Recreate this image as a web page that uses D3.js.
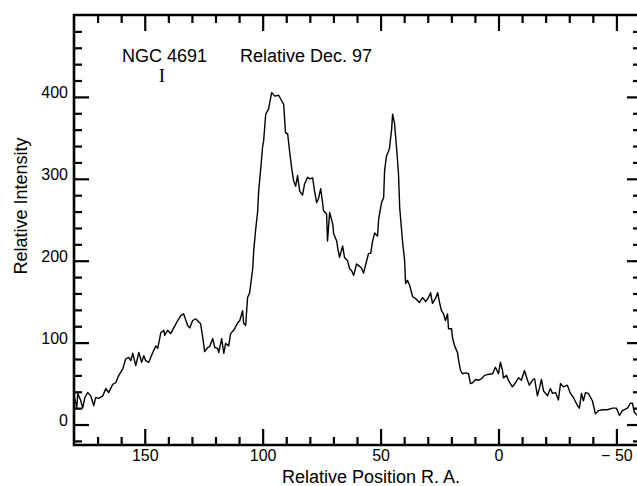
<!DOCTYPE html>
<html>
<head>
<meta charset="utf-8">
<script src="https://cdn.jsdelivr.net/npm/d3@7"></script>
<style>
  body { margin: 0; background: #fff; }
  svg { display: block; }
  text { font-family: "Liberation Sans", Arial, sans-serif; fill: #000; }
  .axis path { display: none; }
  .axis line { stroke: #000; stroke-width: 2.2; }
  .axis text { font-size: 16px; }
</style>
</head>
<body>
<div id="chart"></div>
<script>
const position = [180, 178.8, 178.4, 177.1, 176.3, 175.4, 174.2, 172.9, 171.6, 170.8, 169.5, 167.8, 166.5, 165.3, 163.6, 162.3, 161.0, 159.3, 158.1, 156.8,
  155.9, 155.1, 153.8, 152.5, 151.3, 150.4, 149.6, 148.3, 146.6, 145.3, 144.5, 143.2, 141.9, 141.5, 140.3, 139.0, 137.7, 136.0, 134.7, 133.5,
  131.8, 130.9, 129.7, 128.4, 126.3, 125.4, 124.6, 123.3, 122.5, 121.2, 120.3, 119.1, 118.6, 117.4, 116.5, 115.7, 114.4, 113.6, 112.3, 110.6,
  109.7, 108.5, 108.1, 107.2, 106.4, 105.5, 104.2, 103.8, 103.0, 102.1, 101.7, 100.8, 100.0, 99.6, 98.7, 97.5, 97.0, 96.2, 95.8, 94.9,
  93.2, 91.9, 91.1, 90.3, 89.4, 88.6, 87.7, 86.9, 86.0, 85.2, 84.3, 83.1, 82.2, 80.9, 80.1, 78.8, 78.0, 77.1, 76.3, 75.4,
  74.6, 74.2, 72.9, 72.5, 71.6, 70.3, 69.9, 68.6, 68.2, 67.4, 66.1, 65.3, 64.0, 63.1, 62.3, 61.4, 60.2, 59.3, 58.1, 57.2,
  55.9, 55.1, 54.2, 53.4, 52.5, 51.3, 50.8, 49.6, 48.7, 48.3, 47.5, 46.6, 46.2, 45.3, 44.9, 44.1, 43.2, 42.4, 41.9, 40.7,
  39.8, 39.4, 38.6, 37.7, 36.4, 35.2, 33.5, 32.2, 30.9, 29.7, 28.8, 28.0, 26.7, 25.8, 25.0, 24.2, 23.3, 22.5, 21.6, 21.2,
  19.9, 19.5, 18.6, 17.4, 16.9, 16.1, 15.3, 14.0, 12.7, 11.9, 11.0, 9.7, 8.5, 7.2, 5.9, 4.7, 2.5, 1.3, 0, -0.8,
  -1.7, -2.1, -3.4, -4.2, -5.9, -7.2, -8.5, -9.7, -11.0, -12.3, -13.1, -14.4, -15.3, -16.5, -17.4, -18.2, -19.1, -20.8, -22.0, -22.9,
  -24.2, -25.4, -26.3, -27.5, -29.2, -30.5, -31.8, -33.5, -34.3, -35.2, -36.0, -36.9, -38.1, -39.8, -41.1, -42.4, -44.1, -46.2, -48.3, -50.0,
  -51.3, -52.5, -54.7, -55.9, -56.8, -57.6, -58.9];
const intensity = [35, 21, 38, 29, 20, 33, 39, 35, 23, 33, 32, 35, 44, 39, 49, 51, 60, 68, 80, 82,
  78, 87, 72, 88, 76, 84, 78, 76, 88, 96, 93, 112, 115, 109, 115, 111, 118, 127, 133, 135,
  121, 118, 127, 129, 123, 106, 89, 94, 95, 105, 94, 93, 88, 105, 87, 99, 96, 111, 115, 124,
  127, 139, 124, 121, 155, 161, 191, 212, 237, 261, 285, 313, 340, 346, 379, 385, 393, 405, 404, 401,
  402, 395, 391, 356, 355, 334, 313, 298, 291, 304, 285, 280, 294, 302, 300, 301, 285, 271, 276, 288,
  271, 261, 257, 224, 259, 245, 233, 224, 216, 204, 218, 204, 200, 190, 188, 182, 196, 194, 191, 185,
  200, 209, 209, 224, 234, 230, 251, 271, 277, 310, 328, 334, 338, 361, 379, 368, 337, 306, 265, 224,
  200, 172, 176, 170, 156, 154, 149, 155, 150, 155, 161, 148, 154, 161, 149, 139, 135, 127, 135, 117,
  117, 106, 96, 88, 78, 66, 62, 63, 62, 50, 51, 55, 54, 56, 60, 61, 62, 70, 62, 76,
  66, 57, 60, 54, 46, 51, 57, 54, 66, 54, 48, 54, 56, 35, 45, 55, 41, 35, 44, 38,
  39, 30, 50, 46, 48, 38, 33, 23, 20, 38, 29, 39, 38, 29, 13, 17, 18, 18, 20, 20,
  11, 17, 20, 26, 26, 15, 11];

const xMajorTicks = [150, 100, 50, 0, -50];
const xTickLabels = ['150', '100', '50', '0', '\u2212 50'];
const xMinorTicks = [170, 160, 140, 130, 120, 110, 90, 80, 70, 60, 40, 30, 20, 10, -10, -20, -30, -40];
const yMajorTicks = [0, 100, 200, 300, 400];
const yTickLabels = ['0', '100', '200', '300', '400'];
const yMinorTicks = [-20, 20, 40, 60, 80, 120, 140, 160, 180, 220, 240, 260, 280, 320, 340, 360, 380, 420, 440, 460, 480];

const width = 637, height = 486;
const plotLeft = 74, plotRight = 640, plotTop = 15, plotBottom = 445;

const svg = d3.select('#chart').append('svg')
  .attr('width', width)
  .attr('height', height);

const x = d3.scaleLinear().domain([180, -60]).range([plotLeft, plotRight]);
const y = d3.scaleLinear().domain([-25, 500]).range([plotBottom, plotTop]);

// bottom axis: ticks point up into the plot, labels below
svg.append('g').attr('class', 'axis')
  .attr('transform', `translate(0, ${plotBottom})`)
  .call(d3.axisBottom(x).tickValues(xMinorTicks).tickSize(-8).tickFormat(''));
svg.append('g').attr('class', 'axis')
  .attr('transform', `translate(0, ${plotBottom})`)
  .call(d3.axisBottom(x).tickValues(xMajorTicks).tickSize(-16).tickPadding(5)
    .tickFormat(function(d, i) { return xTickLabels[i]; }));

// top axis, ticks only
svg.append('g').attr('class', 'axis')
  .attr('transform', `translate(0, ${plotTop})`)
  .call(d3.axisTop(x).tickValues(xMinorTicks).tickSize(-8).tickFormat(''));
svg.append('g').attr('class', 'axis')
  .attr('transform', `translate(0, ${plotTop})`)
  .call(d3.axisTop(x).tickValues(xMajorTicks).tickSize(-16).tickFormat(''));

// left axis
svg.append('g').attr('class', 'axis')
  .attr('transform', `translate(${plotLeft}, 0)`)
  .call(d3.axisLeft(y).tickValues(yMinorTicks).tickSize(-8).tickFormat(''));
svg.append('g').attr('class', 'axis')
  .attr('transform', `translate(${plotLeft}, 0)`)
  .call(d3.axisLeft(y).tickValues(yMajorTicks).tickSize(-15).tickPadding(6)
    .tickFormat(function(d, i) { return yTickLabels[i]; }))
  .selectAll('text').attr('dy', '0.05em');

// right axis (sits just off the page edge)
svg.append('g').attr('class', 'axis')
  .attr('transform', `translate(${plotRight}, 0)`)
  .call(d3.axisRight(y).tickValues(yMinorTicks).tickSize(-7).tickFormat(''));
svg.append('g').attr('class', 'axis')
  .attr('transform', `translate(${plotRight}, 0)`)
  .call(d3.axisRight(y).tickValues(yMajorTicks).tickSize(-13).tickFormat(''));

// frame
svg.append('path')
  .attr('d', `M${plotRight},${plotTop}H${plotLeft}V${plotBottom}H${plotRight}`)
  .attr('fill', 'none')
  .attr('stroke', '#000')
  .attr('stroke-width', 2.6);

// the trace
const line = d3.line()
  .x(function(d, i) { return x(position[i]); })
  .y(function(d) { return y(d); });

svg.append('path')
  .datum(intensity)
  .attr('d', line)
  .attr('fill', 'none')
  .attr('stroke', '#000')
  .attr('stroke-width', 1.4)
  .attr('stroke-linejoin', 'round');

// labels
svg.append('text')
  .attr('x', 122).attr('y', 62)
  .style('font-size', '18px')
  .text('NGC 4691');

svg.append('text')
  .attr('x', 162).attr('y', 82)
  .attr('text-anchor', 'middle')
  .style('font-family', '"Liberation Serif", serif')
  .style('font-size', '19px')
  .text('I');

svg.append('text')
  .attr('x', 240).attr('y', 62)
  .style('font-size', '18px')
  .text('Relative Dec. 97');

svg.append('text')
  .attr('x', 371).attr('y', 483)
  .attr('text-anchor', 'middle')
  .style('font-size', '18px')
  .text('Relative Position R. A.');

svg.append('text')
  .attr('transform', 'translate(27, 206) rotate(-90)')
  .attr('text-anchor', 'middle')
  .style('font-size', '18px')
  .text('Relative Intensity');
</script>
</body>
</html>
